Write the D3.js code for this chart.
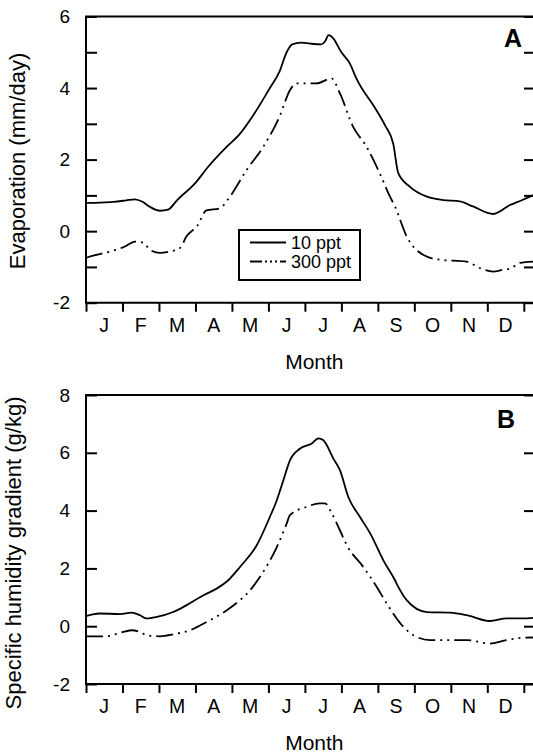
<!DOCTYPE html>
<html>
<head>
<meta charset="utf-8">
<script src="https://cdn.jsdelivr.net/npm/d3@7"></script>
<style>
  html, body { margin: 0; padding: 0; background: #fff; }
  svg { display: block; }
</style>
</head>
<body>
<div id="chart"></div>
<script>
// month initials along the x axis
var monthLabels = ["J", "F", "M", "A", "M", "J", "J", "A", "S", "O", "N", "D"];

// Panel A: evaporation (mm/day), x in months since 1 Jan
var evap10Month = [0, 0.4, 0.75, 1.1, 1.34, 1.55, 1.75, 2.03, 2.25, 2.5, 3.0, 3.35, 3.86, 4.2, 4.59, 5.04, 5.3, 5.5, 5.65, 5.9, 6.15, 6.45, 6.55, 6.65, 6.75, 7.0, 7.23, 7.41, 7.96, 8.2, 8.42, 8.56, 8.88, 9.33, 9.79, 10.25, 10.61, 11.16, 11.62, 11.96, 12.27];
var evap10Value = [0.79, 0.80, 0.82, 0.86, 0.89, 0.82, 0.68, 0.57, 0.60, 0.87, 1.35, 1.8, 2.36, 2.7, 3.25, 4.0, 4.45, 5.0, 5.22, 5.27, 5.24, 5.22, 5.3, 5.48, 5.42, 5.0, 4.69, 4.27, 3.38, 2.95, 2.45, 1.62, 1.24, 0.97, 0.87, 0.83, 0.69, 0.48, 0.73, 0.87, 1.01];

var evap300Month = [0, 0.05, 0.66, 1.07, 1.34, 1.57, 1.75, 2.03, 2.30, 2.58, 2.75, 3.05, 3.3, 3.67, 3.95, 4.40, 4.86, 5.32, 5.59, 5.77, 6.32, 6.73, 6.96, 7.32, 7.69, 8.05, 8.33, 8.47, 8.79, 9.24, 9.70, 10.43, 10.79, 11.16, 11.43, 11.62, 11.89, 12.27];
var evap300Value = [-0.75, -0.73, -0.57, -0.43, -0.29, -0.32, -0.52, -0.61, -0.57, -0.47, -0.15, 0.15, 0.58, 0.64, 0.97, 1.71, 2.36, 3.24, 3.94, 4.13, 4.13, 4.27, 3.85, 2.92, 2.36, 1.62, 0.97, 0.69, -0.15, -0.66, -0.80, -0.85, -1.03, -1.13, -1.08, -1.05, -0.89, -0.85];

// Panel B: specific humidity gradient (g/kg)
var humid10Month = [0, 0.16, 0.38, 0.93, 1.25, 1.48, 1.66, 1.94, 2.39, 2.76, 3.22, 3.58, 3.90, 4.22, 4.68, 5.04, 5.23, 5.41, 5.59, 5.87, 6.19, 6.37, 6.50, 6.78, 6.96, 7.19, 7.51, 7.79, 8.15, 8.47, 8.56, 8.79, 9.34, 9.98, 10.44, 11.07, 11.53, 11.97, 12.28];
var humid10Value = [0.35, 0.40, 0.44, 0.42, 0.47, 0.38, 0.27, 0.32, 0.49, 0.73, 1.07, 1.30, 1.59, 2.05, 2.80, 3.78, 4.36, 5.05, 5.74, 6.15, 6.32, 6.50, 6.44, 5.80, 5.40, 4.47, 3.78, 3.21, 2.28, 1.59, 1.36, 0.90, 0.49, 0.47, 0.38, 0.18, 0.27, 0.27, 0.29];

var humid300Month = [0, 0.57, 0.93, 1.25, 1.48, 1.66, 2.03, 2.39, 2.85, 3.31, 3.86, 4.22, 4.50, 4.77, 5.23, 5.50, 5.59, 6.05, 6.41, 6.55, 6.74, 6.96, 7.15, 7.60, 7.97, 8.24, 8.70, 8.97, 9.43, 9.98, 10.44, 11.07, 11.53, 11.97, 12.28];
var humid300Value = [-0.35, -0.35, -0.23, -0.14, -0.20, -0.31, -0.35, -0.28, -0.14, 0.15, 0.55, 0.90, 1.25, 1.71, 2.74, 3.55, 3.84, 4.13, 4.25, 4.25, 3.90, 3.32, 2.80, 2.05, 1.36, 0.79, -0.02, -0.31, -0.48, -0.48, -0.48, -0.60, -0.48, -0.40, -0.39];

var seriesNames = ["10 ppt", "300 ppt"];
var evapTicks = [-2, -1, 0, 1, 2, 3, 4, 5, 6];
var humidTicks = [-2, 0, 2, 4, 6, 8];

var width = 533, height = 753;
var fontFamily = "'Liberation Sans', Arial, Helvetica, sans-serif";
var dashStyle = "17,5,2,5,2,5";

var svg = d3.select("#chart").append("svg")
  .attr("width", width)
  .attr("height", height);

// shared x scale (months), the frame runs a little past December
var x = d3.scaleLinear().domain([0, 12]).range([86, 523.8]);
var frameRight = 535;

function toPoints(ms, vs) {
  return ms.map(function(m, i) { return [m, vs[i]]; });
}

function drawPanel(p) {
  var y = d3.scaleLinear().domain(p.domain).range([p.bottom, p.top]);
  var g = svg.append("g");

  // left axis, ticks pointing inward
  var left = g.append("g")
    .attr("transform", "translate(" + x(0) + ",0)")
    .call(d3.axisLeft(y)
      .tickValues(p.ticks)
      .tickSizeInner(-11)
      .tickSizeOuter(0)
      .tickPadding(16)
      .tickFormat(function(d) { return d % 2 === 0 ? d : ""; }));
  left.attr("font-family", fontFamily).attr("font-size", 19);
  left.select(".domain").remove();
  left.selectAll("line").attr("stroke-width", 2);
  left.selectAll("text").attr("fill", "#000");

  // right ticks (frame edge sits just past the window)
  var right = g.append("g")
    .attr("transform", "translate(" + frameRight + ",0)")
    .call(d3.axisRight(y)
      .tickValues(p.ticks)
      .tickSizeInner(-11)
      .tickSizeOuter(0)
      .tickFormat(""));
  right.select(".domain").remove();
  right.selectAll("line").attr("stroke-width", 2);

  // bottom axis, month boundaries
  var bottom = g.append("g")
    .attr("transform", "translate(0," + p.bottom + ")")
    .call(d3.axisBottom(x)
      .tickValues(d3.range(0, 13))
      .tickSizeInner(9)
      .tickSizeOuter(0)
      .tickFormat(""));
  bottom.select(".domain").remove();
  bottom.selectAll("line").attr("stroke-width", 2);

  // frame
  g.append("path")
    .attr("d", "M" + frameRight + "," + y(p.domain[1]) + "H" + x(0) + "V" + y(p.domain[0]) + "H" + frameRight)
    .attr("fill", "none")
    .attr("stroke", "#000")
    .attr("stroke-width", 2);

  // month letters centred in each month
  g.selectAll(".month")
    .data(monthLabels)
    .enter().append("text")
    .attr("x", function(d, i) { return x(i + 0.5); })
    .attr("y", p.bottom + 29)
    .attr("text-anchor", "middle")
    .attr("font-family", fontFamily)
    .attr("font-size", 19.5)
    .text(function(d) { return d; });

  g.append("text")
    .attr("x", x(6.26))
    .attr("y", p.bottom + 66)
    .attr("text-anchor", "middle")
    .attr("font-family", fontFamily)
    .attr("font-size", 21)
    .text("Month");

  g.append("text")
    .attr("transform", "translate(" + p.titleX + "," + p.titleY + ") rotate(-90)")
    .attr("text-anchor", "middle")
    .attr("font-family", fontFamily)
    .attr("font-size", 22)
    .text(p.title);

  g.append("text")
    .attr("x", p.letterX)
    .attr("y", p.letterY)
    .attr("text-anchor", "middle")
    .attr("font-family", fontFamily)
    .attr("font-weight", "bold")
    .attr("font-size", 25)
    .text(p.letter);

  var line = d3.line()
    .x(function(d) { return x(d[0]); })
    .y(function(d) { return y(d[1]); })
    .curve(d3.curveMonotoneX);

  var clipId = "clip" + p.letter;
  svg.append("clipPath").attr("id", clipId)
    .append("rect")
    .attr("x", x(0)).attr("y", y(p.domain[1]))
    .attr("width", frameRight - x(0)).attr("height", y(p.domain[0]) - y(p.domain[1]));

  g.append("path")
    .datum(p.solid)
    .attr("clip-path", "url(#" + clipId + ")")
    .attr("d", line)
    .attr("fill", "none")
    .attr("stroke", "#000")
    .attr("stroke-width", 1.8);

  g.append("path")
    .datum(p.dashed)
    .attr("clip-path", "url(#" + clipId + ")")
    .attr("d", line)
    .attr("fill", "none")
    .attr("stroke", "#000")
    .attr("stroke-width", 1.8)
    .attr("stroke-dasharray", dashStyle);

  return y;
}

drawPanel({
  domain: [-2, 6], top: 16.5, bottom: 302.7, ticks: evapTicks,
  title: "Evaporation (mm/day)", titleX: 25, titleY: 161,
  letter: "A", letterX: 513, letterY: 47,
  solid: toPoints(evap10Month, evap10Value),
  dashed: toPoints(evap300Month, evap300Value)
});

drawPanel({
  domain: [-2, 8], top: 395, bottom: 684, ticks: humidTicks,
  title: "Specific humidity gradient (g/kg)", titleX: 21, titleY: 553,
  letter: "B", letterX: 506, letterY: 428,
  solid: toPoints(humid10Month, humid10Value),
  dashed: toPoints(humid300Month, humid300Value)
});

// legend for panel A
var legend = svg.append("g").attr("transform", "translate(239,230)");
legend.append("rect")
  .attr("width", 121).attr("height", 50)
  .attr("fill", "#fff")
  .attr("stroke", "#000")
  .attr("stroke-width", 2);
legend.selectAll(".key")
  .data(seriesNames)
  .enter().append("line")
  .attr("x1", 11).attr("x2", 47)
  .attr("y1", function(d, i) { return 12.5 + i * 19; })
  .attr("y2", function(d, i) { return 12.5 + i * 19; })
  .attr("stroke", "#000")
  .attr("stroke-width", 1.8)
  .attr("stroke-dasharray", function(d, i) { return i ? "12,3,2,3,2,3,2,3" : null; });
legend.selectAll(".label")
  .data(seriesNames)
  .enter().append("text")
  .attr("x", 52)
  .attr("y", function(d, i) { return 18.5 + i * 19; })
  .attr("font-family", fontFamily)
  .attr("font-size", 18)
  .text(function(d) { return d; });
</script>
</body>
</html>
